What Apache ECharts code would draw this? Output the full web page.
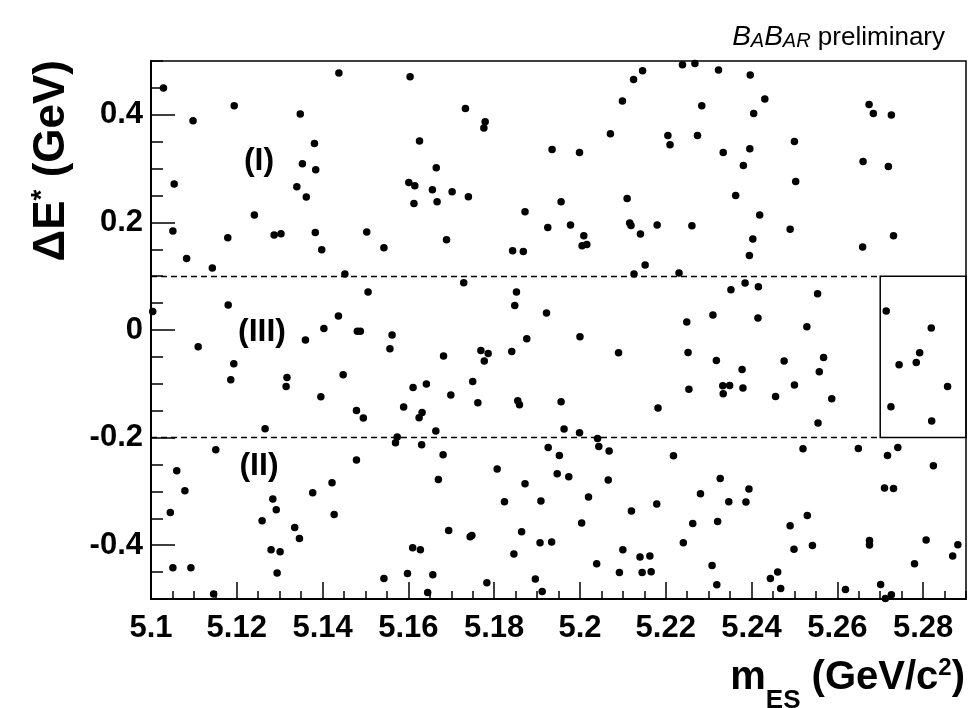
<!DOCTYPE html>
<html>
<head>
<meta charset="utf-8">
<script src="https://cdn.jsdelivr.net/npm/echarts@6/dist/echarts.min.js"></script>
<style>
html,body{margin:0;padding:0;background:#fff;}
#chart{width:970px;height:708px;}
</style>
</head>
<body>
<div id="chart"></div>
<script>
// m_ES values (GeV/c^2)
const xVals = [
5.1029,5.1438,5.1194,5.1348,5.1098,5.1381,5.1353,5.1384,5.1054,5.1340,5.1362,5.1241,5.1051,5.1179,5.1287,5.1303,5.1383,
5.1604,5.1733,5.1779,5.1776,5.1626,5.1935,5.1665,5.1601,5.1615,5.1656,5.1702,5.1740,5.1613,5.1667,5.1956,5.1872,5.1925,5.1503,5.1689,
5.2239,5.2268,5.2146,5.2323,5.2397,5.2125,5.2099,5.2431,5.2284,5.2405,5.2071,5.2205,5.2274,5.2210,5.1999,5.2334,5.2396,5.2381,5.2363,5.2110,5.2419,5.1978,5.2116,5.2119,5.2180,5.2261,5.2009,5.2141,5.2403,5.2005,5.2016,
5.2674,5.2684,5.2726,5.2500,5.2660,5.2719,5.2503,5.2490,5.2731,5.2659,
5.1083,5.1398,5.1143,5.1452,5.1180,5.1004,5.1437,5.1403,5.1360,5.1110,5.1193,5.1186,5.1317,5.1315,5.1448,5.1396,5.1479,
5.1543,5.1843,5.1868,5.1729,5.1506,5.1852,5.1848,5.1922,5.1481,5.1488,5.1562,5.1557,5.1876,5.1682,5.1769,5.1786,5.1841,5.1777,5.1750,5.1611,5.1642,5.1699,5.1762,5.1855,5.1859,5.1956,5.1589,5.1632,5.1625,5.1495,
5.2395,5.2152,5.2126,5.2231,5.2385,5.2416,5.2352,5.2310,5.2249,5.2415,5.2000,5.2090,5.2252,5.2318,5.2378,5.2333,5.2349,5.2334,5.2380,5.2254,5.2182,
5.2554,5.2714,5.2529,5.2819,5.2792,5.2568,5.2476,5.2784,5.2744,5.2558,5.2500,5.2857,5.2456,5.2587,5.2725,5.2555,5.2820,
5.1266,5.1151,5.1479,5.1060,5.1079,5.1045,5.1284,5.1292,5.1259,5.1335,5.1346,5.1280,5.1301,5.1294,5.1051,5.1093,5.1377,5.1422,5.1427,5.1146,
5.1664,5.1574,5.1570,5.1631,5.1681,5.1670,5.1807,5.1872,5.1926,5.1952,5.1947,5.1963,5.1824,5.1909,5.1694,5.1744,5.1748,5.1610,5.1628,5.1864,5.1907,5.1934,5.1846,5.1543,5.1598,5.1657,5.1645,5.1783,5.1896,5.1912,
5.1999,5.2041,5.2044,5.2068,5.2218,5.1974,5.2066,5.2327,5.2020,5.2281,5.2394,5.2347,5.2387,5.2120,5.2179,5.2004,5.2263,5.2321,5.2241,5.2100,5.2140,5.2163,5.2039,5.2092,5.2145,5.2166,5.2308,5.2319,5.2444,
5.2520,5.2649,5.2741,5.2717,5.2824,5.2710,5.2731,5.2530,5.2490,5.2499,5.2542,5.2675,5.2675,5.2807,5.2881,5.2869,5.2780,5.2461,5.2468,5.2619,5.2701,5.2726,5.2712
];
// Delta E* values (GeV)
const yVals = [
0.4496,0.4775,0.4167,0.4013,0.3889,0.3468,0.3089,0.2978,0.2712,0.2662,0.2470,0.2136,0.1838,0.1714,0.1764,0.1788,0.1814,
0.4706,0.4119,0.3870,0.3753,0.3511,0.3357,0.3015,0.2743,0.2680,0.2606,0.2569,0.2476,0.2353,0.2383,0.2383,0.2197,0.1907,0.1820,0.1677,
0.4929,0.4955,0.4818,0.4831,0.4738,0.4658,0.4255,0.4292,0.4167,0.4026,0.3647,0.3617,0.3617,0.3442,0.3301,0.3301,0.3368,0.3059,0.2502,0.2446,0.2136,0.1950,0.1987,0.1944,0.1950,0.1937,0.1751,0.1783,0.1690,0.1565,0.1591,
0.4193,0.4026,0.3994,0.3506,0.3134,0.3041,0.2762,0.1875,0.1751,0.1541,
0.1331,0.1491,0.1151,0.1039,0.0463,0.0346,0.0258,0.0030,-0.0188,-0.0312,-0.0628,-0.0926,-0.0881,-0.1048,-0.0833,-0.1242,-0.1494,
0.1528,0.1472,0.1461,0.0877,0.0704,0.0704,0.0457,0.0314,-0.0025,-0.0025,-0.0095,-0.0349,-0.0164,-0.0485,-0.0379,-0.0435,-0.0398,-0.0578,-0.0955,-0.1067,-0.1006,-0.1210,-0.1353,-0.1316,-0.1390,-0.1335,-0.1433,-0.1532,-0.1632,-0.1638,
0.1387,0.1206,0.1039,0.1058,0.0872,0.0803,0.0747,0.0277,0.0147,0.0221,-0.0126,-0.0424,-0.0416,-0.0565,-0.0732,-0.1037,-0.1030,-0.1186,-0.1080,-0.1099,-0.1452,
0.0673,0.0351,0.0059,0.0035,-0.0424,-0.0509,-0.0578,-0.0602,-0.0647,-0.0777,-0.1024,-0.1048,-0.1234,-0.1279,-0.1428,-0.1730,-0.1691,
-0.1836,-0.2227,-0.2418,-0.2617,-0.2989,-0.3390,-0.3143,-0.3342,-0.3546,-0.3669,-0.3874,-0.4086,-0.4123,-0.4519,-0.4420,-0.4420,-0.3026,-0.2840,-0.3428,-0.4909,
-0.1879,-0.1991,-0.2097,-0.2134,-0.2320,-0.2777,-0.2585,-0.2859,-0.2182,-0.2331,-0.2673,-0.1842,-0.3193,-0.3180,-0.3725,-0.3844,-0.3818,-0.4048,-0.4086,-0.3751,-0.3955,-0.3942,-0.4165,-0.4617,-0.4524,-0.4550,-0.4877,-0.4699,-0.4630,-0.4859,
-0.1911,-0.2015,-0.2164,-0.2251,-0.2338,-0.2729,-0.2790,-0.2758,-0.3106,-0.3045,-0.2957,-0.3193,-0.3199,-0.3366,-0.3236,-0.3589,-0.3595,-0.3558,-0.3955,-0.4086,-0.4221,-0.4203,-0.4346,-0.4506,-0.4506,-0.4494,-0.4375,-0.4736,-0.4617,
-0.2208,-0.2201,-0.2182,-0.2331,-0.2524,-0.2939,-0.2944,-0.3446,-0.3639,-0.4073,-0.4004,-0.3911,-0.3998,-0.3905,-0.3993,-0.4203,-0.4346,-0.4500,-0.4803,-0.4822,-0.4729,-0.4922,-0.4990
];
const xTickLabels = [5.1, 5.12, 5.14, 5.16, 5.18, 5.2, 5.22, 5.24, 5.26, 5.28];
const yTickLabels = [-0.4, -0.2, 0, 0.2, 0.4];
const xRange = [5.1, 5.29];
const yRange = [-0.5, 0.5];
const dashLevels = [0.1, -0.2];
const boxX = [5.27, 5.29];
const boxY = [-0.2, 0.1];
const regionLabels = ['(I)', '(III)', '(II)'];

const FONT = 'Liberation Sans, Arial, Helvetica, sans-serif';
const points = xVals.map((x, i) => [x, yVals[i]]);

const chart = echarts.init(document.getElementById('chart'), null, {renderer: 'canvas'});
const option = {
  animation: false,
  backgroundColor: '#fff',
  grid: {left: 151, right: 4, top: 61, bottom: 109, show: true, borderColor: '#000', borderWidth: 1.5, backgroundColor: 'transparent'},
  xAxis: [
    {
      type: 'value', min: xRange[0], max: xRange[1], position: 'bottom',
      axisLine: {show: true, onZero: false, lineStyle: {color: '#000', width: 2}},
      axisTick: {show: true, inside: true, length: 17, customValues: xTickLabels, lineStyle: {color: '#000', width: 1.5}},
      axisLabel: {show: true, customValues: xTickLabels, color: '#000', fontSize: 31, fontWeight: 'bold', fontFamily: FONT, margin: 14},
      splitLine: {show: false}
    },
    {
      type: 'value', min: xRange[0], max: xRange[1], interval: 0.005, position: 'bottom',
      axisLine: {show: false, onZero: false},
      axisTick: {show: true, inside: true, length: 8, lineStyle: {color: '#000', width: 1.5}},
      axisLabel: {show: false},
      splitLine: {show: false}
    }
  ],
  yAxis: [
    {
      type: 'value', min: yRange[0], max: yRange[1], position: 'left',
      axisLine: {show: true, onZero: false, lineStyle: {color: '#000', width: 2}},
      axisTick: {show: true, inside: true, length: 24, customValues: yTickLabels, lineStyle: {color: '#000', width: 1.5}},
      axisLabel: {show: true, customValues: yTickLabels, color: '#000', fontSize: 31, fontWeight: 'bold', fontFamily: FONT, margin: 8},
      splitLine: {show: false}
    },
    {
      type: 'value', min: yRange[0], max: yRange[1], interval: 0.05, position: 'left',
      axisLine: {show: false, onZero: false},
      axisTick: {show: true, inside: true, length: 12, lineStyle: {color: '#000', width: 1.5}},
      axisLabel: {show: false},
      splitLine: {show: false}
    }
  ],
  series: [{
    type: 'scatter',
    xAxisIndex: 0, yAxisIndex: 0,
    symbol: 'circle', symbolSize: 7.5,
    itemStyle: {color: '#000', opacity: 1},
    data: points,
    markLine: {
      silent: true, symbol: ['none', 'none'], label: {show: false},
      lineStyle: {color: '#000', type: [6, 4], width: 1.3},
      data: dashLevels.map(v => [{coord: [xRange[0], v]}, {coord: [boxX[0], v]}])
    },
    markArea: {
      silent: true,
      itemStyle: {color: 'rgba(0,0,0,0)', borderColor: '#000', borderWidth: 1.5},
      data: [[{coord: [boxX[0], boxY[1]]}, {coord: [boxX[1], boxY[0]]}]]
    }
  }],
  graphic: [
    {type: 'text', x: 259, y: 161, style: {text: regionLabels[0], font: 'bold 32px ' + FONT, fill: '#000', textAlign: 'center', textVerticalAlign: 'middle'}},
    {type: 'text', x: 262, y: 332, style: {text: regionLabels[1], font: 'bold 32px ' + FONT, fill: '#000', textAlign: 'center', textVerticalAlign: 'middle'}},
    {type: 'text', x: 259, y: 466, style: {text: regionLabels[2], font: 'bold 32px ' + FONT, fill: '#000', textAlign: 'center', textVerticalAlign: 'middle'}},
    {type: 'text', x: 945, y: 37, style: {
      text: '{B|B}{a|A}{B|B}{a|AR}{p| preliminary}',
      textAlign: 'right', textVerticalAlign: 'middle', fill: '#000',
      rich: {
        B: {fontSize: 28, fontStyle: 'italic', fontFamily: FONT, fill: '#000', verticalAlign: 'bottom', lineHeight: 28},
        a: {fontSize: 20, fontStyle: 'italic', fontFamily: FONT, fill: '#000', verticalAlign: 'bottom', lineHeight: 24},
        p: {fontSize: 26, fontFamily: FONT, fill: '#000', verticalAlign: 'bottom', lineHeight: 28}
      }
    }},
    {type: 'text', x: 965, y: 678, style: {
      text: '{n|m}{s|ES}{n| (GeV/c}{u|2}{n|)}',
      textAlign: 'right', textVerticalAlign: 'middle', fill: '#000',
      rich: {
        n: {fontSize: 40, fontWeight: 'bold', fontFamily: FONT, fill: '#000', lineHeight: 44},
        s: {fontSize: 26, fontWeight: 'bold', fontFamily: FONT, fill: '#000', verticalAlign: 'bottom', lineHeight: 22, padding: [0, 0, -14, 0]},
        u: {fontSize: 24, fontWeight: 'bold', fontFamily: FONT, fill: '#000', verticalAlign: 'top', lineHeight: 18}
      }
    }},
    {type: 'text', x: 52, y: 60, rotation: Math.PI / 2, style: {
      text: '{n|ΔE}{u|*}{n| (GeV)}',
      textAlign: 'right', textVerticalAlign: 'middle', fill: '#000',
      rich: {
        n: {fontSize: 44, fontWeight: 'bold', fontFamily: FONT, fill: '#000', lineHeight: 48},
        u: {fontSize: 28, fontWeight: 'bold', fontFamily: FONT, fill: '#000', verticalAlign: 'top', lineHeight: 22}
      }
    }}
  ]
};
chart.setOption(option);
</script>
</body>
</html>
